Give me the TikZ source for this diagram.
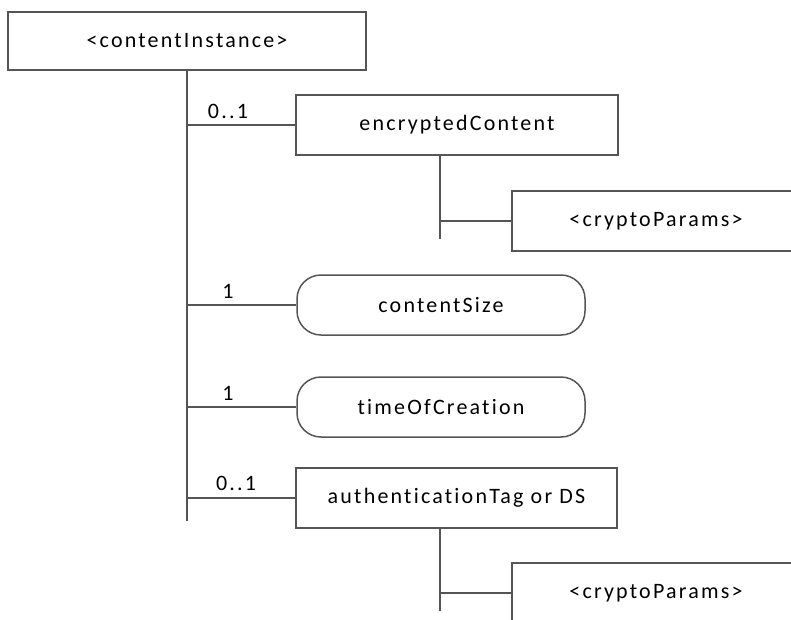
\documentclass[tikz,border=0pt]{standalone}
\usepackage{fontspec}
\setmainfont{Carlito}[LetterSpace=10, Ligatures={NoCommon}, RawFeature={-liga;-dlig}]
\usetikzlibrary{calc}
\definecolor{lc}{RGB}{85,85,85}
\begin{document}
\begin{tikzpicture}[x=1pt,y=-1pt,
  every node/.style={font=\fontsize{22}{26}\selectfont, text=black},
  box/.style={draw=lc, line width=1.5pt, rectangle, inner sep=0pt},
  rbox/.style={draw=lc, line width=1.5pt, rectangle, rounded corners=24pt, inner sep=0pt},
  conn/.style={draw=lc, line width=1.5pt},
  lbl/.style={anchor=base, inner sep=0pt}]
\useasboundingbox (0,0) rectangle (791,619);
\clip (0,0) rectangle (791,619);
\fill[white] (0,0) rectangle (791,619);
% nodes
\node[box, minimum width=358pt, minimum height=58pt] (ci) at (187,41) {<contentInstance>};
\node[box, minimum width=322pt, minimum height=60pt] (ec) at (457,125) {encryptedContent};
\node[box, minimum width=288pt, minimum height=60pt] (cp1) at (656,221) {<cryptoParams>};
\node[rbox, minimum width=288pt, minimum height=60pt] (cs) at (441,305) {contentSize};
\node[rbox, minimum width=288pt, minimum height=60pt] (tc) at (441,407) {timeOfCreation};
\node[box, minimum width=321pt, minimum height=60pt] (at) at (456.5,498) {authenticationTag or DS};
\node[box, minimum width=288pt, minimum height=60pt] (cp2) at (656,593) {<cryptoParams>};
% coordinates
\coordinate (trunkend) at (187,521);
\coordinate (e1top) at (440,155);
\coordinate (e1bot) at (440,239);
\coordinate (a1top) at (440,528);
\coordinate (a1bot) at (440,611);
% connectors
\draw[conn] (ci.south) -- (trunkend);
\draw[conn] (ec.west -| ci.south) -- (ec.west);
\draw[conn] (cs.west -| ci.south) -- (cs.west);
\draw[conn] (tc.west -| ci.south) -- (tc.west);
\draw[conn] (at.west -| ci.south) -- (at.west);
\draw[conn] (e1top) -- (e1bot);
\draw[conn] (cp1.west -| e1top) -- (cp1.west);
\draw[conn] (a1top) -- (a1bot);
\draw[conn] (cp2.west -| a1top) -- (cp2.west);
% labels
\node[lbl] (l1) at (228,118) {0..1};
\node[lbl] (l2) at (228,298) {1};
\node[lbl] (l3) at (228,400) {1};
\node[lbl] (l4) at (236,490) {0..1};
\end{tikzpicture}
\end{document}
